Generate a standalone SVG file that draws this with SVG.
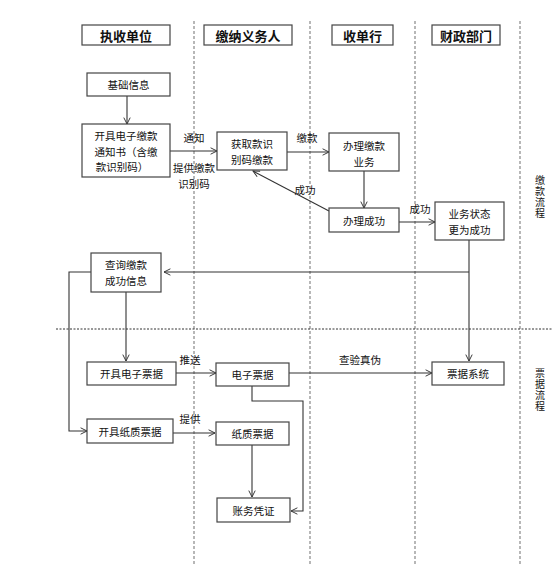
<svg xmlns="http://www.w3.org/2000/svg" width="553" height="567" viewBox="0 0 553 567">
<style>
.bg{fill:#fff}
.box{fill:#fff;stroke:#444;stroke-width:1.2}
.t{font-family:"Noto Sans CJK SC","Liberation Sans",sans-serif;font-size:10.5px;fill:#111;text-anchor:middle;dominant-baseline:central}
.s{font-family:"Noto Sans CJK SC","Liberation Sans",sans-serif;font-size:10px;fill:#111;text-anchor:middle;writing-mode:vertical-rl;text-orientation:upright;letter-spacing:1px}
.h{font-family:"Noto Sans CJK SC","Liberation Sans",sans-serif;font-size:13px;font-weight:bold;fill:#111;text-anchor:middle;dominant-baseline:central}
.lane{stroke:#888;stroke-width:1.2;stroke-dasharray:3,2;fill:none}
.sep{stroke:#333;stroke-width:1;stroke-dasharray:2,1.5;fill:none}
.c{stroke:#333;stroke-width:1.1;fill:none}
.a{marker-end:url(#arr)}
</style>
<defs>
<marker id="arr" viewBox="0 0 10 10" refX="9" refY="5" markerWidth="8" markerHeight="8" markerUnits="userSpaceOnUse" orient="auto">
<path d="M1,1 L9,5 L1,9" fill="none" stroke="#333" stroke-width="1.2"/>
</marker>
</defs>
<rect class="bg" x="0" y="0" width="553" height="567"/>
<g id="lanes">
<line class="lane" x1="194" y1="21" x2="194" y2="566"/>
<line class="lane" x1="310" y1="21" x2="310" y2="566"/>
<line class="lane" x1="415" y1="21" x2="415" y2="566"/>
<line class="lane" x1="520" y1="21" x2="520" y2="566"/>
<line class="sep" x1="56" y1="329" x2="553" y2="329"/>
</g>
<g id="headers">
<g id="h1"><rect class="box" x="82" y="25" width="88" height="20"/><text class="h" x="126" y="35">执收单位</text></g>
<g id="h2"><rect class="box" x="204" y="25" width="88" height="20"/><text class="h" x="248" y="35">缴纳义务人</text></g>
<g id="h3"><rect class="box" x="332" y="25" width="61" height="20"/><text class="h" x="362.5" y="35">收单行</text></g>
<g id="h4"><rect class="box" x="432" y="25" width="68" height="20"/><text class="h" x="466" y="35">财政部门</text></g>
</g>
<g id="connectors">
<line class="c a" x1="127" y1="96" x2="127" y2="124"/>
<line class="c a" x1="170" y1="151" x2="217" y2="151"/>
<line class="c a" x1="287" y1="152" x2="329" y2="152"/>
<line class="c a" x1="364" y1="171" x2="364" y2="208"/>
<line class="c a" x1="329" y1="211" x2="253" y2="171"/>
<line class="c a" x1="399" y1="222" x2="435" y2="222"/>
<polyline class="c" points="469,240 469,272"/>
<line class="c a" x1="469" y1="272" x2="164" y2="272"/>
<line class="c a" x1="469" y1="272" x2="469" y2="361"/>
<line class="c a" x1="126" y1="292" x2="126" y2="361"/>
<polyline class="c a" points="91,272 69,272 69,431 87,431"/>
<line class="c a" x1="176" y1="373" x2="216" y2="373"/>
<line class="c a" x1="289" y1="373" x2="432" y2="373"/>
<polyline class="c a" points="252,386 252,401 303,401 303,511 291,511"/>
<line class="c a" x1="173" y1="433" x2="215" y2="433"/>
<line class="c a" x1="252" y1="445" x2="252" y2="497"/>
</g>
<g id="labels">
<text class="t" x="194" y="137">通知</text>
<text class="t" x="194" y="167">提供缴款<tspan x="194" dy="15.5">识别码</tspan></text>
<text class="t" x="307" y="137">缴款</text>
<text class="t" x="305" y="189">成功</text>
<text class="t" x="420" y="208">成功</text>
<text class="t" x="190" y="359">推送</text>
<text class="t" x="360" y="359">查验真伪</text>
<text class="t" x="190" y="418">提供</text>
</g>
<g id="n_jichu"><rect class="box" x="87" y="73" width="83" height="23"/><text class="t" x="128.5" y="84.5">基础信息</text></g>
<g id="n_kaiju"><rect class="box" x="82" y="124" width="88" height="53"/><text class="t" x="126" y="135">开具电子缴款<tspan x="126" dy="15.5">通知书（含缴</tspan><tspan x="122" dy="15.5">款识别码）</tspan></text></g>
<g id="n_huoqu"><rect class="box" x="217" y="132" width="70" height="38"/><text class="t" x="252" y="143">获取款识<tspan x="252" dy="15.5">别码缴款</tspan></text></g>
<g id="n_banli"><rect class="box" x="329" y="133" width="70" height="38"/><text class="t" x="364" y="145">办理缴款<tspan x="364" dy="15.5">业务</tspan></text></g>
<g id="n_chenggong"><rect class="box" x="329" y="208" width="70" height="24"/><text class="t" x="364" y="220">办理成功</text></g>
<g id="n_zhuangtai"><rect class="box" x="435" y="202" width="69" height="38"/><text class="t" x="469.5" y="213.5">业务状态<tspan x="469.5" dy="15.5">更为成功</tspan></text></g>
<g id="n_chaxun"><rect class="box" x="91" y="253" width="70" height="39"/><text class="t" x="126" y="264.5">查询缴款<tspan x="126" dy="15.5">成功信息</tspan></text></g>
<g id="n_dzpj_kai"><rect class="box" x="87" y="362" width="89" height="23"/><text class="t" x="131.5" y="373.5">开具电子票据</text></g>
<g id="n_dzpj"><rect class="box" x="216" y="363" width="73" height="23"/><text class="t" x="252.5" y="374.5">电子票据</text></g>
<g id="n_pjxt"><rect class="box" x="432" y="362" width="72" height="23"/><text class="t" x="468" y="373.5">票据系统</text></g>
<g id="n_zzpj_kai"><rect class="box" x="87" y="419" width="86" height="24"/><text class="t" x="130" y="431">开具纸质票据</text></g>
<g id="n_zzpj"><rect class="box" x="216" y="422" width="73" height="23"/><text class="t" x="252.5" y="433.5">纸质票据</text></g>
<g id="n_zwpz"><rect class="box" x="217" y="498" width="73" height="24"/><text class="t" x="253.5" y="510">账务凭证</text></g>
<g id="side">
<text class="s" x="540" y="197">缴款流程</text>
<text class="s" x="540" y="390">票据流程</text>
</g>
</svg>
